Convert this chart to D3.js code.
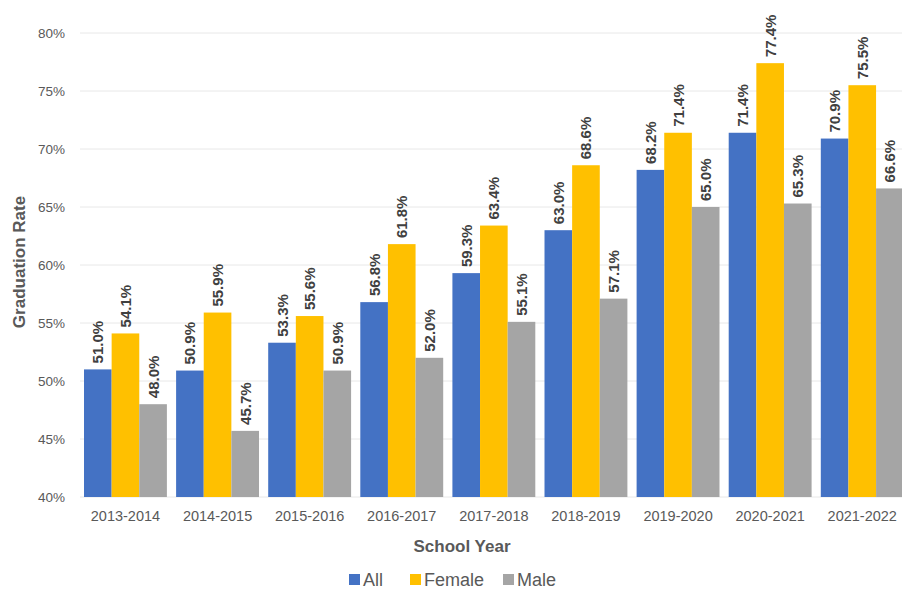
<!DOCTYPE html>
<html>
<head>
<meta charset="utf-8">
<script src="https://cdn.jsdelivr.net/npm/d3@7"></script>
<style>
  html, body { margin: 0; padding: 0; background: #fff; }
  svg { display: block; }
</style>
</head>
<body>
<svg id="chart" width="902" height="591"></svg>
<script>
const categories = ["2013-2014","2014-2015","2015-2016","2016-2017","2017-2018","2018-2019","2019-2020","2020-2021","2021-2022"];
const seriesNames = ["All","Female","Male"];
const allValues    = [51.0, 50.9, 53.3, 56.8, 59.3, 63.0, 68.2, 71.4, 70.9];
const femaleValues = [54.1, 55.9, 55.6, 61.8, 63.4, 68.6, 71.4, 77.4, 75.5];
const maleValues   = [48.0, 45.7, 50.9, 52.0, 55.1, 57.1, 65.0, 65.3, 66.6];
const yTicks = [40, 45, 50, 55, 60, 65, 70, 75, 80];
const colors = ["#4472C4", "#FFC000", "#A5A5A5"];

const seriesValues = [allValues, femaleValues, maleValues];
const rows = categories.map((c, i) => ({cat: c, vals: seriesNames.map((s, j) => ({series: s, value: seriesValues[j][i], idx: j}))}));

const svg = d3.select("#chart");
const font = "'Liberation Sans', Arial, sans-serif";

const x = d3.scaleBand().domain(categories).range([79.4, 908.3]).paddingInner(0.1).paddingOuter(0.05);
const xs = d3.scaleBand().domain(seriesNames).range([0, x.bandwidth()]);
const y = d3.scaleLinear().domain([40, 80]).range([497, 33]);

// gridlines
svg.append("g").selectAll("line").data(yTicks).join("line")
  .attr("x1", 80).attr("x2", 902)
  .attr("y1", d => y(d)).attr("y2", d => y(d))
  .attr("stroke", "#e8e8e8").attr("stroke-width", 1);

// y axis labels
const yAxis = d3.axisLeft(y).tickValues(yTicks).tickFormat(d => d + "%").tickSize(0).tickPadding(0);
const yg = svg.append("g").attr("transform", "translate(65,0)").call(yAxis);
yg.select(".domain").remove();
yg.selectAll("text").attr("font-family", font).attr("font-size", 13.5).attr("fill", "#595959");

// bars
const groups = svg.append("g").selectAll("g").data(rows).join("g")
  .attr("transform", d => `translate(${x(d.cat)},0)`);
groups.selectAll("rect").data(d => d.vals).join("rect")
  .attr("x", d => xs(d.series))
  .attr("width", xs.bandwidth())
  .attr("y", d => y(d.value))
  .attr("height", d => y(40) - y(d.value))
  .attr("fill", d => colors[d.idx]);

// value labels
groups.selectAll("text").data(d => d.vals).join("text")
  .attr("transform", d => `translate(${xs(d.series) + xs.bandwidth() / 2 + 5.5},${y(d.value) - 6}) rotate(-90)`)
  .attr("text-anchor", "start")
  .attr("font-family", font).attr("font-weight", "bold").attr("font-size", 15)
  .attr("fill", "#404040")
  .text(d => d.value.toFixed(1) + "%");

// x axis labels
const xAxis = d3.axisBottom(x).tickSize(0).tickPadding(0);
const xg = svg.append("g").attr("transform", "translate(0,511)").call(xAxis);
xg.select(".domain").remove();
xg.selectAll("text").attr("font-family", font).attr("font-size", 14.5).attr("fill", "#595959");

// axis titles
svg.append("text").attr("x", 462).attr("y", 552).attr("text-anchor", "middle")
  .attr("font-family", font).attr("font-weight", "bold").attr("font-size", 17).attr("fill", "#595959")
  .text("School Year");
svg.append("text").attr("transform", "translate(25,262) rotate(-90)").attr("text-anchor", "middle")
  .attr("font-family", font).attr("font-weight", "bold").attr("font-size", 17).attr("fill", "#595959")
  .text("Graduation Rate");

// legend
const legendX = [349, 410, 503];
const leg = svg.append("g").selectAll("g").data(seriesNames).join("g")
  .attr("transform", (d, i) => `translate(${legendX[i]},574)`);
leg.append("rect").attr("width", 11).attr("height", 11).attr("fill", (d, i) => colors[i]);
leg.append("text").attr("x", 14).attr("y", 11.5)
  .attr("font-family", font).attr("font-size", 18).attr("fill", "#595959")
  .text(d => d);
</script>
</body>
</html>
